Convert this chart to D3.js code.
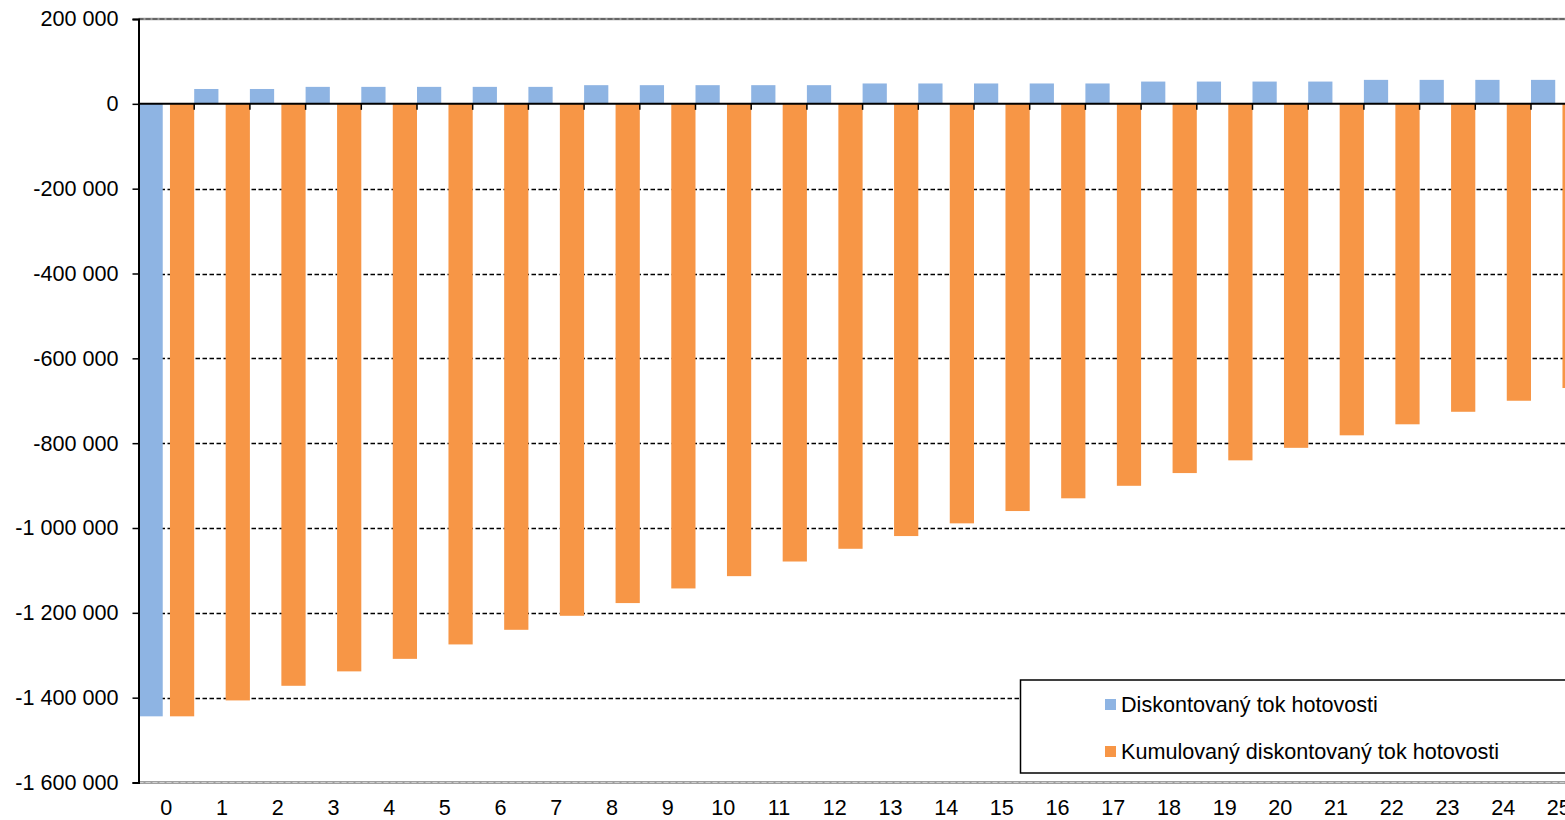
<!DOCTYPE html>
<html>
<head>
<meta charset="utf-8">
<script src="https://cdn.jsdelivr.net/npm/d3@7"></script>
<style>
  html, body { margin: 0; padding: 0; background: #fff; }
  svg text { font-family: "Liberation Sans", Arial, sans-serif; fill: #000; }
</style>
</head>
<body>
<div id="chart"></div>
<script>
// roky projektu
var roky = [0, 1, 2, 3, 4, 5, 6, 7, 8, 9, 10, 11, 12, 13, 14, 15, 16, 17, 18, 19, 20, 21, 22, 23, 24, 25];

// diskontovany tok hotovosti (Kc)
var tok = [-1444000, 35000, 35000, 40000, 40000, 40000, 40000, 40000, 44000, 44000, 44000, 44000, 44000,
  48000, 48000, 48000, 48000, 48000, 52500, 52500, 52500, 52500, 56500, 56500, 56500, 56500];

// kumulovany diskontovany tok hotovosti (Kc)
var kumul = [-1444000, -1406500, -1372000, -1338000, -1308500, -1274500, -1240000, -1207000, -1177000,
  -1142500, -1113500, -1079000, -1049000, -1019000, -989000, -960000, -930000, -900500, -870500,
  -840500, -811000, -781500, -755500, -726000, -700000, -670000];

var osaY = [200000, 0, -200000, -400000, -600000, -800000, -1000000, -1200000, -1400000, -1600000];

var serie = ["Diskontovaný tok hotovosti", "Kumulovaný diskontovaný tok hotovosti"];
var barvy = ["#8EB4E3", "#F79646"];

var w = 1565;
var h = 820;
var left = 138.5;
var bandW = 55.7;
var fs = "21.6px";

var svg = d3.select("#chart")
      .append("svg")
      .attr("width", w)
      .attr("height", h);

var x = d3.scaleBand()
      .domain(roky)
      .range([left, left + roky.length * bandW])
      .padding(0);

var y = d3.scaleLinear()
      .domain([-1600000, 200000])
      .range([782.5, 19]);

var cz = d3.formatLocale({decimal: ",", thousands: " ", grouping: [3], currency: ["", ""], minus: "-"});
var fmt = cz.format(",d");

var right = x.range()[1];

// mrizka
svg.append("g")
  .selectAll("line")
  .data(osaY.filter(function(d) { return d != 0 && d != 200000 && d != -1600000; }))
  .enter()
  .append("line")
    .attr("x1", left + 1)
    .attr("x2", right)
    .attr("y1", function(d) { return Math.round(y(d)) + 0.5; })
    .attr("y2", function(d) { return Math.round(y(d)) + 0.5; })
    .attr("stroke", "#000")
    .attr("stroke-width", 1.4)
    .attr("stroke-dasharray", "4.5,2.5");

// horni a dolni okraj
svg.append("line")
  .attr("x1", left).attr("x2", right)
  .attr("y1", y(200000)).attr("y2", y(200000))
  .attr("stroke", "#9a9a9a").attr("stroke-width", 2.5);
svg.append("line")
  .attr("x1", left).attr("x2", right)
  .attr("y1", y(200000)).attr("y2", y(200000))
  .attr("stroke", "#333").attr("stroke-width", 1.2)
  .attr("stroke-dasharray", "5,2");
svg.append("line")
  .attr("x1", left).attr("x2", right)
  .attr("y1", y(-1600000)).attr("y2", y(-1600000))
  .attr("stroke", "#a0a0a0").attr("stroke-width", 3);
svg.append("line")
  .attr("x1", left).attr("x2", right)
  .attr("y1", y(-1600000)).attr("y2", y(-1600000))
  .attr("stroke", "#d0d0d0").attr("stroke-width", 1)
  .attr("stroke-dasharray", "5,2");

var barW = bandW * 0.435;

svg.append("g")
  .selectAll("rect")
  .data(tok)
  .enter()
  .append("rect")
    .attr("x", function(d, i) { return x(roky[i]); })
    .attr("y", function(d) { return y(Math.max(0, d)); })
    .attr("width", barW)
    .attr("height", function(d) { return Math.abs(y(d) - y(0)); })
    .attr("fill", barvy[0]);

svg.append("g")
  .selectAll("rect")
  .data(kumul)
  .enter()
  .append("rect")
    .attr("x", function(d, i) { return x(roky[i]) + x.bandwidth() - barW; })
    .attr("y", function(d) { return y(Math.max(0, d)); })
    .attr("width", barW)
    .attr("height", function(d) { return Math.abs(y(d) - y(0)); })
    .attr("fill", barvy[1]);

// osa y
var yAxis = d3.axisLeft(y)
  .tickValues(osaY)
  .tickSize(6)
  .tickPadding(14)
  .tickFormat(function(d) { return fmt(d); });

var gy = svg.append("g")
  .attr("transform", "translate(" + left + ",0)")
  .call(yAxis);
gy.select(".domain").attr("stroke", "#000").attr("stroke-width", 2);
gy.selectAll(".tick line").attr("stroke", "#000").attr("stroke-width", 1.5);
gy.selectAll(".tick text")
  .attr("font-size", fs)
  .attr("font-family", "Liberation Sans, Arial, sans-serif")
  .attr("fill", "#000");

// osa x na nule
svg.append("line")
  .attr("x1", left).attr("x2", right)
  .attr("y1", y(0)).attr("y2", y(0))
  .attr("stroke", "#000").attr("stroke-width", 2);

svg.append("g")
  .selectAll("line")
  .data(roky.slice(1))
  .enter()
  .append("line")
    .attr("x1", function(d) { return x(d); })
    .attr("x2", function(d) { return x(d); })
    .attr("y1", y(0))
    .attr("y2", y(0) + 6)
    .attr("stroke", "#000")
    .attr("stroke-width", 1.5);

svg.append("g")
  .selectAll("text")
  .data(roky)
  .enter()
  .append("text")
    .text(function(d) { return d; })
    .attr("x", function(d) { return x(d) + x.bandwidth() / 2; })
    .attr("y", 815)
    .attr("text-anchor", "middle")
    .attr("font-size", fs);

// legenda
var leg = svg.append("g");
leg.append("rect")
  .attr("x", 1020.5)
  .attr("y", 680)
  .attr("width", 600)
  .attr("height", 93)
  .attr("fill", "#fff")
  .attr("stroke", "#000")
  .attr("stroke-width", 1.5);

leg.selectAll("rect.sw")
  .data(serie)
  .enter()
  .append("rect")
    .attr("class", "sw")
    .attr("x", 1105)
    .attr("y", function(d, i) { return 699 + i * 47; })
    .attr("width", 11)
    .attr("height", 11)
    .attr("fill", function(d, i) { return barvy[i]; });

leg.selectAll("text")
  .data(serie)
  .enter()
  .append("text")
    .text(function(d) { return d; })
    .attr("x", 1121)
    .attr("y", function(d, i) { return 712 + i * 47; })
    .attr("font-size", fs);
</script>
</body>
</html>
